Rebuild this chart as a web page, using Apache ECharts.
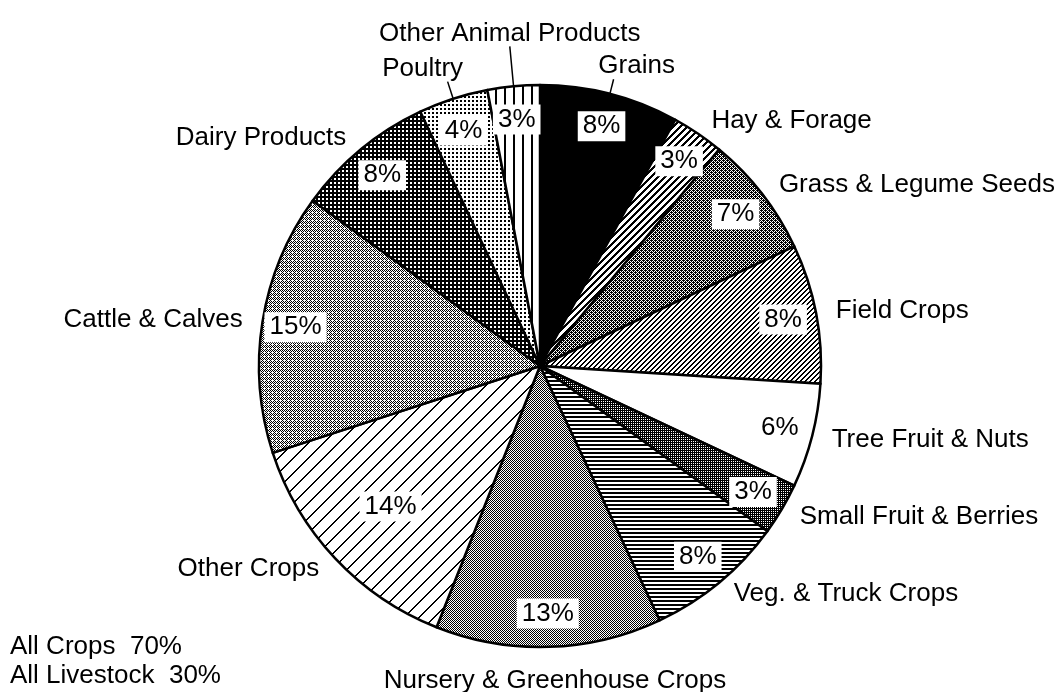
<!DOCTYPE html>
<html>
<head>
<meta charset="utf-8">
<script src="https://cdn.jsdelivr.net/npm/echarts@6/dist/echarts.min.js"></script>
<style>
  html, body { margin: 0; padding: 0; background: #fff; }
  #main { width: 1062px; height: 692px; }
</style>
</head>
<body>
<div id="main"></div>
<script type="text/javascript">
// 数据
var categories = ['Grains', 'Hay & Forage', 'Grass & Legume Seeds', 'Field Crops', 'Tree Fruit & Nuts',
    'Small Fruit & Berries', 'Veg. & Truck Crops', 'Nursery & Greenhouse Crops', 'Other Crops',
    'Cattle & Calves', 'Dairy Products', 'Poultry', 'Other Animal Products'];
var values = [8, 3, 7, 8, 6, 3, 8, 13, 14, 15, 8, 4, 3];
var groups = ['crop', 'crop', 'crop', 'crop', 'crop', 'crop', 'crop', 'crop', 'crop',
    'livestock', 'livestock', 'livestock', 'livestock'];

var FONT = '"Liberation Sans", Arial, Helvetica, sans-serif';

// 网点/斜线填充
function tile(w, h, fn) {
    var c = document.createElement('canvas');
    c.width = w; c.height = h;
    var ctx = c.getContext('2d');
    ctx.fillStyle = '#fff';
    ctx.fillRect(0, 0, w, h);
    ctx.fillStyle = '#000';
    for (var y = 0; y < h; y++) {
        for (var x = 0; x < w; x++) {
            if (fn(x, y)) ctx.fillRect(x, y, 1, 1);
        }
    }
    return { image: c, repeat: 'repeat' };
}
var fills = [
    '#000',
    tile(7, 7, function (x, y) { return (x + y) % 7 < 3; }),
    tile(4, 4, function (x, y) { return (x + y) % 2 == 0 || (x == 1 && y == 2) || (x == 3 && y == 0); }),
    tile(5, 5, function (x, y) { return (x + y) % 5 < 2; }),
    '#fff',
    tile(2, 2, function (x, y) { return !(x == 1 && y == 1); }),
    tile(1, 4, function (x, y) { return y < 2; }),
    tile(2, 2, function (x, y) { return (x + y) % 2 == 0; }),
    tile(15, 15, function (x, y) { return (x + y) % 15 < 2; }),
    tile(4, 4, function (x, y) { return (x + y) % 2 == 0 && !(x == 0 && y == 0); }),
    tile(4, 4, function (x, y) { return !(x >= 2 && y >= 2); }),
    tile(4, 4, function (x, y) { return x < 2 && y < 2; }),
    tile(9, 1, function (x, y) { return x < 2; })
];

// 引线标签
var leader = {
    'Grains': { len: 15, dist: 23 },
    'Poultry': { len: 18, dist: 25 },
    'Other Animal Products': { len: 40, dist: 0 }
};

var mainData = [], pctData = [];
for (var i = 0; i < categories.length; i++) {
    var item = { name: categories[i], value: values[i], itemStyle: { color: fills[i] } };
    var ld = leader[categories[i]];
    if (ld) {
        item.labelLine = { show: true, length: ld.len, length2: 0 };
        item.label = { distanceToLabelLine: ld.dist };
    }
    if (categories[i] == 'Nursery & Greenhouse Crops') {
        item.labelLine = { show: false, length: 34, length2: 0 };
    }
    mainData.push(item);
    pctData.push({ name: categories[i], value: values[i] });
}

var crops = 0, stock = 0;
for (var j = 0; j < values.length; j++) {
    if (groups[j] == 'crop') crops += values[j]; else stock += values[j];
}

var myChart = echarts.init(document.getElementById('main'));
var option = {
    backgroundColor: '#fff',
    animation: false,
    title: {
        text: 'All Crops  ' + crops + '%\nAll Livestock  ' + stock + '%',
        left: 10,
        top: 632,
        padding: 0,
        textStyle: { fontFamily: FONT, fontSize: 26, fontWeight: 'normal', color: '#000', lineHeight: 29 }
    },
    series: [{
        type: 'pie',
        center: [540, 366],
        radius: 281,
        startAngle: 90,
        clockwise: true,
        avoidLabelOverlap: false,
        silent: true,
        itemStyle: { borderColor: '#000', borderWidth: 2.5 },
        label: {
            show: true,
            position: 'outside',
            formatter: '{b}',
            fontFamily: FONT,
            fontSize: 26,
            color: '#000',
            overflow: 'none',
            bleedMargin: 0,
            distanceToLabelLine: 5
        },
        labelLine: {
            show: false,
            length: 15,
            length2: 0,
            lineStyle: { color: '#000', width: 1.5 }
        },
        labelLayout: function (params) {
            var name = categories[params.dataIndex];
            if (leader[name]) return { align: 'center', verticalAlign: 'bottom' };
            if (name == 'Nursery & Greenhouse Crops') return { align: 'center' };
            return {};
        },
        data: mainData
    }, {
        type: 'pie',
        center: [540, 366],
        radius: [208, 281],
        startAngle: 90,
        clockwise: true,
        silent: true,
        itemStyle: { color: 'rgba(0,0,0,0)', borderWidth: 0 },
        label: {
            show: true,
            position: 'inside',
            formatter: '{c}%',
            fontFamily: FONT,
            fontSize: 26,
            color: '#000',
            backgroundColor: '#fff',
            padding: [3, 5, 1, 5]
        },
        labelLine: { show: false },
        labelLayout: function (params) {
            // 14% 标签更靠近圆心
            if (categories[params.dataIndex] == 'Other Crops') return { dx: 31, dy: -29 };
            return {};
        },
        data: pctData
    }]
};
myChart.setOption(option);
</script>
</body>
</html>
